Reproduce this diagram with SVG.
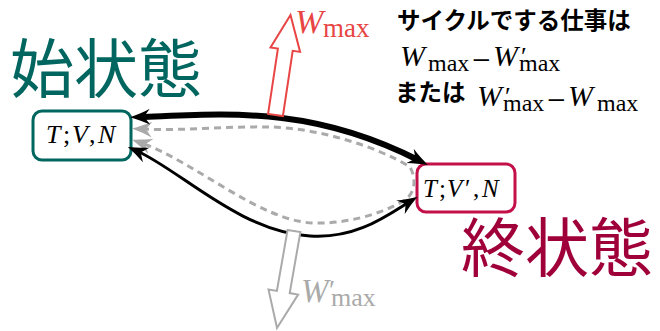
<svg xmlns="http://www.w3.org/2000/svg" width="660" height="331" viewBox="0 0 660 331">
<style>
.title{font-family:"Noto Sans CJK JP","Noto Sans CJK SC",sans-serif;font-size:64px}
.jp{font-family:"Noto Sans CJK JP","Noto Sans CJK SC",sans-serif;font-size:23.5px;font-weight:bold;fill:#000}
.mi{font-family:"Liberation Serif",serif;font-style:italic}
.rm{font-family:"Liberation Serif",serif}
.teal{fill:#00665F}
.crim{fill:#A0003A}
.box{fill:#fff;stroke-width:3}
.blk{fill:none;stroke:#000}
.dash{fill:none;stroke:#AAAAAA;stroke-width:3;stroke-dasharray:7 5}
</style>
<defs>
<marker id="ahb" viewBox="0 -10 22 20" refX="10" refY="0" markerWidth="22" markerHeight="20" markerUnits="userSpaceOnUse" orient="auto-start-reverse">
<path d="M20,0 C14,-2 6,-5 0,-8 L6,0 L0,8 C6,5 14,2 20,0 Z" fill="#000"/>
</marker>
<marker id="ahg" viewBox="0 -10 22 20" refX="10" refY="0" markerWidth="22" markerHeight="20" markerUnits="userSpaceOnUse" orient="auto-start-reverse">
<path d="M20,0 C14,-2 6,-5 0,-8 L6,0 L0,8 C6,5 14,2 20,0 Z" fill="#AAAAAA"/>
</marker>
</defs>
<rect width="660" height="331" fill="#fff"/>

<g id="initial-state">
<rect class="box" x="33" y="111" width="98" height="49" rx="9" stroke="#00665F"/>
<text y="143" font-size="26"><tspan class="mi" x="46">T</tspan><tspan class="rm" x="63">;</tspan><tspan class="mi" x="72">V</tspan><tspan class="rm" x="89">,</tspan><tspan class="mi" x="98">N</tspan></text>
<text class="title teal" x="10" y="92">始状態</text>
</g>

<g id="final-state">
<rect class="box" x="417" y="164" width="98" height="48" rx="9" stroke="#C41048"/>
<text y="197" font-size="25"><tspan class="mi" x="423">T</tspan><tspan class="rm" x="439">;</tspan><tspan class="mi" x="447">V</tspan><tspan class="rm" x="465">′</tspan><tspan class="rm" x="473">,</tspan><tspan class="mi" x="482">N</tspan></text>
<text class="title crim" x="461" y="271">終状態</text>
</g>

<g id="connectors">
<path class="dash" d="M142,129 C185,131 230,126 270,127 C320,128 380,148 410,167 C416,178 416,192 405,200 C380,215 345,224 313,223 C260,221 195,162 141.5,143" marker-start="url(#ahg)" marker-end="url(#ahg)"/>
<path class="blk" stroke-width="6" d="M140,117 C225,114 310,105 419,160.5" marker-start="url(#ahb)" marker-end="url(#ahb)"/>
<path class="blk" stroke-width="3" d="M137,151 C180,170 240,232 310,236 C355,239 385,217 409,202" marker-start="url(#ahb)" marker-end="url(#ahb)"/>
</g>

<g id="work-out">
<polygon points="268.1,113.9 277.9,48.6 270.5,47.5 290.5,15 300.1,51.9 292.7,50.8 282.9,116.1" fill="#fff" stroke="#E84545" stroke-width="2"/>
<text fill="#E84545"><tspan class="mi" x="295" y="33" font-size="34">W</tspan><tspan class="rm" x="323" y="37" font-size="27">max</tspan></text>
</g>

<g id="work-in">
<polygon points="287.6,229.9 300.4,232.1 289.7,293.1 298.1,294.6 277,328 268.5,289.4 276.9,290.9" fill="#fff" stroke="#AAAAAA" stroke-width="2"/>
<text fill="#AAAAAA"><tspan class="mi" x="301" y="302" font-size="33">W</tspan><tspan class="rm" x="329" y="299" font-size="28">′</tspan><tspan class="rm" x="331" y="306" font-size="26">max</tspan></text>
</g>

<g id="cycle-note">
<text class="jp" x="397" y="29">サイクルでする仕事は</text>
<text><tspan class="mi" x="400" y="66" font-size="30">W</tspan><tspan class="rm" x="428" y="71" font-size="24">max</tspan><tspan class="rm" x="472" y="71" font-size="33">−</tspan><tspan class="mi" x="493" y="66" font-size="30">W</tspan><tspan class="rm" x="521" y="65" font-size="26">′</tspan><tspan class="rm" x="519" y="71" font-size="24">max</tspan></text>
<text class="jp" x="395" y="101">または</text>
<text><tspan class="mi" x="477" y="106" font-size="30">W</tspan><tspan class="rm" x="505" y="105" font-size="26">′</tspan><tspan class="rm" x="503" y="111" font-size="24">max</tspan><tspan class="rm" x="547" y="111" font-size="33">−</tspan><tspan class="mi" x="568" y="106" font-size="30">W</tspan><tspan class="rm" x="597" y="111" font-size="24">max</tspan></text>
</g>
</svg>
